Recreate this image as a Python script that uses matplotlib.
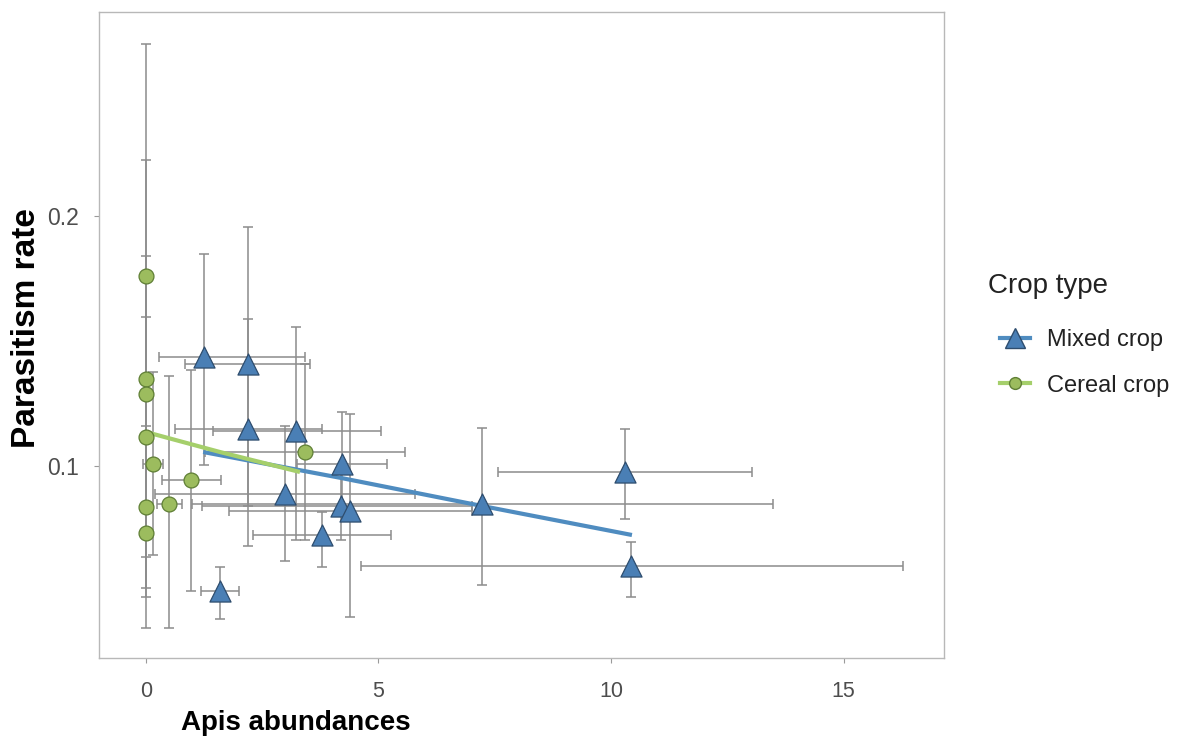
import matplotlib
matplotlib.use('Agg')
import matplotlib.pyplot as plt
from matplotlib.lines import Line2D

plt.rcParams['font.family'] = ['Liberation Sans', 'DejaVu Sans']

# --- data ---
mixed_x = [1.25, 2.19, 2.19, 3.23, 4.21, 2.99, 4.19, 4.39, 3.78, 1.59, 7.23, 10.30, 10.43]
mixed_y = [0.1436, 0.141, 0.115, 0.114, 0.101, 0.089, 0.084, 0.082, 0.0724, 0.050, 0.085, 0.0976, 0.060]
mixed_ylo = [0.1004, 0.084, 0.068, 0.0704, 0.0804, 0.062, 0.0704, 0.0396, 0.0596, 0.0388, 0.0524, 0.0788, 0.0476]
mixed_yhi = [0.1848, 0.1956, 0.159, 0.1556, 0.1216, 0.116, 0.0976, 0.121, 0.0816, 0.0596, 0.1152, 0.1148, 0.0696]
mixed_xlo = [0.28, 0.84, 0.62, 1.44, 3.24, 0.20, 1.20, 1.78, 2.30, 1.18, 0.99, 7.57, 4.62]
mixed_xhi = [3.42, 3.53, 3.78, 5.05, 5.18, 5.78, 7.00, 7.00, 5.26, 2.00, 13.48, 13.03, 16.28]

cereal_x = [0, 0, 0, 0, 0, 0, 0.15, 0.97, 0.50, 3.42]
cereal_y = [0.176, 0.135, 0.129, 0.1116, 0.0836, 0.0732, 0.101, 0.0944, 0.085, 0.1056]
cereal_ylo = [0.083, 0.0476, 0.074, 0.0636, 0.0512, 0.0352, 0.0644, 0.050, 0.0352, 0.0704]
cereal_yhi = [0.269, 0.2224, 0.184, 0.1596, 0.116, 0.111, 0.1376, 0.1384, 0.136, 0.141]
cereal_xlo = [0, 0, 0, 0, 0, 0, -0.07, 0.34, 0.23, 1.27]
cereal_xhi = [0, 0, 0, 0, 0, 0, 0.37, 1.61, 0.77, 5.57]

mixed_fit_x = [1.23, 4.20, 7.23, 10.45]
mixed_fit_y = [0.1056, 0.0952, 0.0840, 0.0724]
cereal_fit_x = [0.0, 1.59, 3.31]
cereal_fit_y = [0.1136, 0.1056, 0.0976]

x_ticks = [0, 5, 10, 15]
y_ticks = [0.1, 0.2]

BLUE_FILL = '#4a7fb5'
BLUE_EDGE = '#2e4d6e'
BLUE_LINE = '#4f8cc0'
GREEN_FILL = '#9cbc5e'
GREEN_EDGE = '#5f7f35'
GREEN_LINE = '#a5cf6b'
ERR = '#8c8c8c'

W, H = 1181, 740
fig = plt.figure(figsize=(W / 100, H / 100), dpi=100)
ax = fig.add_axes([99 / W, 1 - 658 / H, 845 / W, 646 / H])


def err_bars(xs, ys, xlo, xhi, ylo, yhi):
    xerr = [[x - a for x, a in zip(xs, xlo)], [b - x for x, b in zip(xs, xhi)]]
    yerr = [[y - a for y, a in zip(ys, ylo)], [b - y for y, b in zip(ys, yhi)]]
    ax.errorbar(xs, ys, xerr=xerr, yerr=yerr, fmt='none', ecolor=ERR,
                elinewidth=1.1, capsize=3.4, capthick=1.1, zorder=1)


err_bars(cereal_x, cereal_y, cereal_xlo, cereal_xhi, cereal_ylo, cereal_yhi)
err_bars(mixed_x, mixed_y, mixed_xlo, mixed_xhi, mixed_ylo, mixed_yhi)

# fitted lines
ax.plot(mixed_fit_x, mixed_fit_y, color=BLUE_LINE, linewidth=3, zorder=2, solid_capstyle='butt')
ax.plot(cereal_fit_x, cereal_fit_y, color=GREEN_LINE, linewidth=3, zorder=2, solid_capstyle='butt')

# points
ax.scatter(cereal_x, cereal_y, marker='o', s=115, facecolor=GREEN_FILL,
           edgecolor=GREEN_EDGE, linewidth=0.9, zorder=3)
ax.scatter(mixed_x, mixed_y, marker='^', s=230, facecolor=BLUE_FILL,
           edgecolor=BLUE_EDGE, linewidth=0.9, zorder=4)

ax.set_xlim(-1.01, 17.16)
ax.set_ylim(0.0232, 0.2816)
ax.set_xticks(x_ticks)
ax.set_xticklabels([str(t) for t in x_ticks])
ax.set_yticks(y_ticks)
ax.set_yticklabels(['0.1', '0.2'])
ax.tick_params(axis='both', length=3.5, width=0.8, color='#9a9a9a',
               labelcolor='#4d4d4d')
ax.tick_params(axis='x', labelsize=15.5, pad=13)
ax.tick_params(axis='y', labelsize=16.5, pad=11)
for sp in ax.spines.values():
    sp.set_color('#b8b8b8')
    sp.set_linewidth(1.0)

# axis titles (placed where the reference has them)
fig.text(296 / W, 1 - 723 / H, 'Apis abundances', fontsize=20, fontweight='bold',
         ha='center', va='center')
fig.text(27 / W, 1 - 328 / H, 'Parasitism rate', fontsize=24, fontweight='bold',
         rotation=90, ha='center', va='center')

# legend
fig.text(988 / W, 1 - 286 / H, 'Crop type', fontsize=20, color='#222222',
         ha='left', va='center')
handles = [
    Line2D([0], [0], color=BLUE_LINE, linewidth=3, marker='^', markersize=14,
           markerfacecolor=BLUE_FILL, markeredgecolor=BLUE_EDGE),
    Line2D([0], [0], color=GREEN_LINE, linewidth=3, marker='o', markersize=8.5,
           markerfacecolor=GREEN_FILL, markeredgecolor=GREEN_EDGE),
]
leg = fig.legend(handles, ['Mixed crop', 'Cereal crop'], loc='upper left',
                 bbox_to_anchor=(1000 / W, 1 - 329 / H), frameon=False,
                 fontsize=17, handlelength=1.27, labelspacing=1.0,
                 handletextpad=0.72, borderpad=0, borderaxespad=0)
for t in leg.get_texts():
    t.set_color('#222222')

fig.savefig('out.png', dpi=100, facecolor='white')
